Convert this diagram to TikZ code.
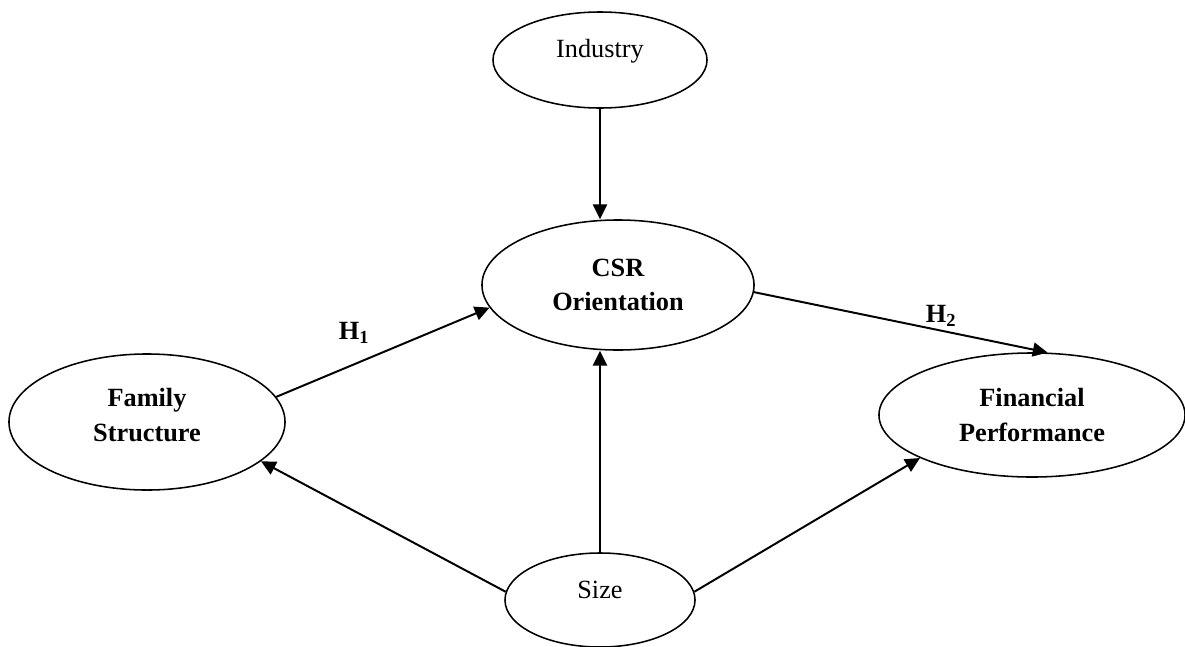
\documentclass[tikz,border=0pt]{standalone}
\usepackage{fontspec}
\setmainfont{Liberation Serif}
\usetikzlibrary{arrows.meta, positioning, shapes.geometric}

\begin{document}
\begin{tikzpicture}[x=0.025cm, y=-0.025cm,
  var/.style={ellipse, draw, line width=1.1pt, inner sep=0pt, align=center,
    font=\fontsize{18.7}{24.5}\selectfont},
  link/.style={line width=1.4pt, -{Triangle[length=10.5pt, width=10pt]}},
  hyp/.style={font=\fontsize{18.7}{24.5}\selectfont\bfseries}]
  \useasboundingbox (0,0) rectangle (1185,646);

  \node[var, minimum width=5.35cm, minimum height=2.4cm, text depth=17pt] (ind) at (600,60) {Industry};
  \node[var, minimum width=6.8cm, minimum height=3.25cm] (csr) at (618,285) {\bfseries CSR\\\bfseries Orientation};
  \node[var, minimum width=6.9cm, minimum height=3.4cm, text depth=10pt] (fam) at (147,422) {\bfseries Family\\\bfseries Structure};
  \node[var, minimum width=7.65cm, minimum height=3.1cm] (fin) at (1032,415) {\bfseries Financial\\\bfseries Performance};
  \node[var, minimum width=4.75cm, minimum height=2.35cm, text depth=14pt] (size) at (600,600) {Size};

  \draw[link] (ind.south) -- (ind.south |- csr.north);
  \draw[link] (size.north) -- (size.north |- csr.south);
  \draw[link] (fam.11) -- (csr.190);
  \draw[link] (csr.-3) -- (fin.76);
  \draw[link] (size.175) -- (fam.-19);
  \draw[link] (size.5) -- (fin.201);

  \node[hyp] (h1) at (354,333) {H\textsubscript{1}};
  \node[hyp] (h2) at (941,316) {H\textsubscript{2}};
\end{tikzpicture}
\end{document}
